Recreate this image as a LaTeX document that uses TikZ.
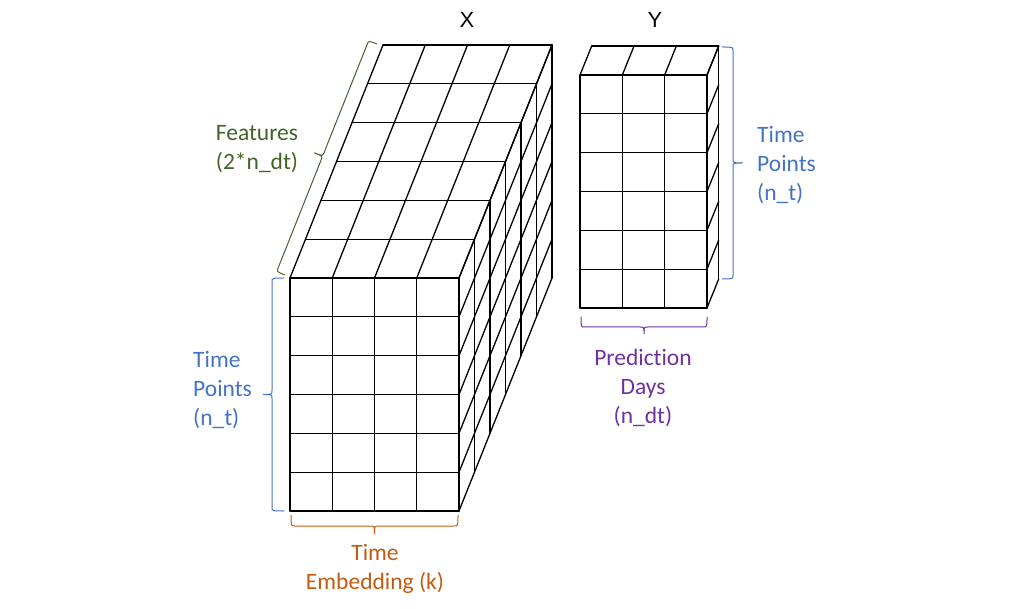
\documentclass[tikz,border=0pt]{standalone}
\usepackage{fontspec}
\setmainfont[Ligatures=NoCommon]{Carlito}
\newfontfamily\xyfont{Liberation Sans}
\usetikzlibrary{calc}
\definecolor{tblue}{HTML}{4472C4}
\definecolor{tgreen}{HTML}{436429}
\definecolor{tpurple}{HTML}{7030A0}
\definecolor{torange}{HTML}{C55A11}
\newcommand{\drawbrace}[5]{%
  \coordinate (bA) at #2;
  \coordinate (bB) at #3;
  \coordinate (bA1) at ($(bA)!#4!90:(bB)$);
  \coordinate (bB1) at ($(bB)!#4!-90:(bA)$);
  \coordinate (bA2) at ($(bA1)!4pt!(bB1)$);
  \coordinate (bB2) at ($(bB1)!4pt!(bA1)$);
  \coordinate (bM) at ($(bA1)!0.5!(bB1)$);
  \coordinate (bT) at ($(bM)!#5!90:(bB1)$);
  \coordinate (bMa) at ($(bM)!4pt!(bA1)$);
  \coordinate (bMb) at ($(bM)!4pt!(bB1)$);
  \draw[#1, bracestyle] (bA) .. controls (bA1) .. (bA2) -- (bMa)
     .. controls (bM) .. (bT) .. controls (bM) .. (bMb) -- (bB2)
     .. controls (bB1) .. (bB);
}
\begin{document}
\begin{tikzpicture}[x=1pt,y=-1pt,
  gridline/.style={black, line width=1.3pt, line cap=round},
  bracestyle/.style={line width=1pt},
  lbl/.style={font=\fontsize{23.5}{29.3}\selectfont, inner sep=0pt},
  xylbl/.style={font=\xyfont\fontsize{22}{26}\selectfont, inner sep=0pt}]
\useasboundingbox (0,0) rectangle (1020,609);
% ---------- X block ----------
% front face
\foreach \i in {0,...,4} {
  \draw[gridline] ({290+42.25*\i},278) -- ({290+42.25*\i},511);
}
\foreach \j in {0,...,6} {
  \draw[gridline] (290,{278+38.833*\j}) -- (459,{278+38.833*\j});
}
% top face
\foreach \k in {0,...,6} {
  \draw[gridline] ({290+15.5*\k},{278-38.833*\k}) -- ({459+15.5*\k},{278-38.833*\k});
}
\foreach \i in {0,...,4} {
  \draw[gridline] ({290+42.25*\i},278) -- ({383+42.25*\i},45);
}
% right face
\foreach \k in {0,...,6} {
  \draw[gridline] ({459+15.5*\k},{278-38.833*\k}) -- ({459+15.5*\k},{511-38.833*\k});
}
\foreach \j in {0,...,6} {
  \draw[gridline] (459,{278+38.833*\j}) -- (552,{45+38.833*\j});
}
% ---------- Y block ----------
\foreach \i in {0,...,3} {
  \draw[gridline] ({580+42.33*\i},75) -- ({580+42.33*\i},308);
  \draw[gridline] ({580+42.33*\i},75) -- ({591.7+42.33*\i},46);
}
\foreach \j in {0,...,6} {
  \draw[gridline] (580,{75+38.833*\j}) -- (707,{75+38.833*\j});
  \draw[gridline] (707,{75+38.833*\j}) -- (718.7,{46+38.833*\j});
}
\draw[gridline] (591.7,46) -- (718.7,46);
\draw[gridline] (718.7,46) -- (718.7,279);
% ---------- braces ----------
\drawbrace{tgreen}{(285,275)}{(377,44)}{9pt}{9pt}
\drawbrace{tblue}{(284,511)}{(284,278)}{12pt}{9pt}
\drawbrace{torange}{(458,515)}{(291,515)}{11pt}{8pt}
\drawbrace{tblue}{(722,47)}{(722,279)}{11pt}{10pt}
\drawbrace{tpurple}{(707,317)}{(581,317)}{10pt}{7pt}
% ---------- labels ----------
\node[xylbl] (xl) at (467,20) {X};
\node[xylbl] (yl) at (655,20) {Y};
\node[lbl, text=tgreen, align=center] (feat) at (257,149) {Features\\(2*n\_dt)};
\node[lbl, text=tblue, align=left, anchor=west] (tpx) at (193,390) {Time\\Points\\(n\_t)};
\node[lbl, text=tblue, align=left, anchor=west] (tpy) at (757,165) {Time\\Points\\(n\_t)};
\node[lbl, text=tpurple, align=center] (pd) at (643,388) {Prediction\\Days\\(n\_dt)};
\node[lbl, text=torange, align=center] (te) at (375,569) {Time\\Embedding (k)};
\end{tikzpicture}
\end{document}
